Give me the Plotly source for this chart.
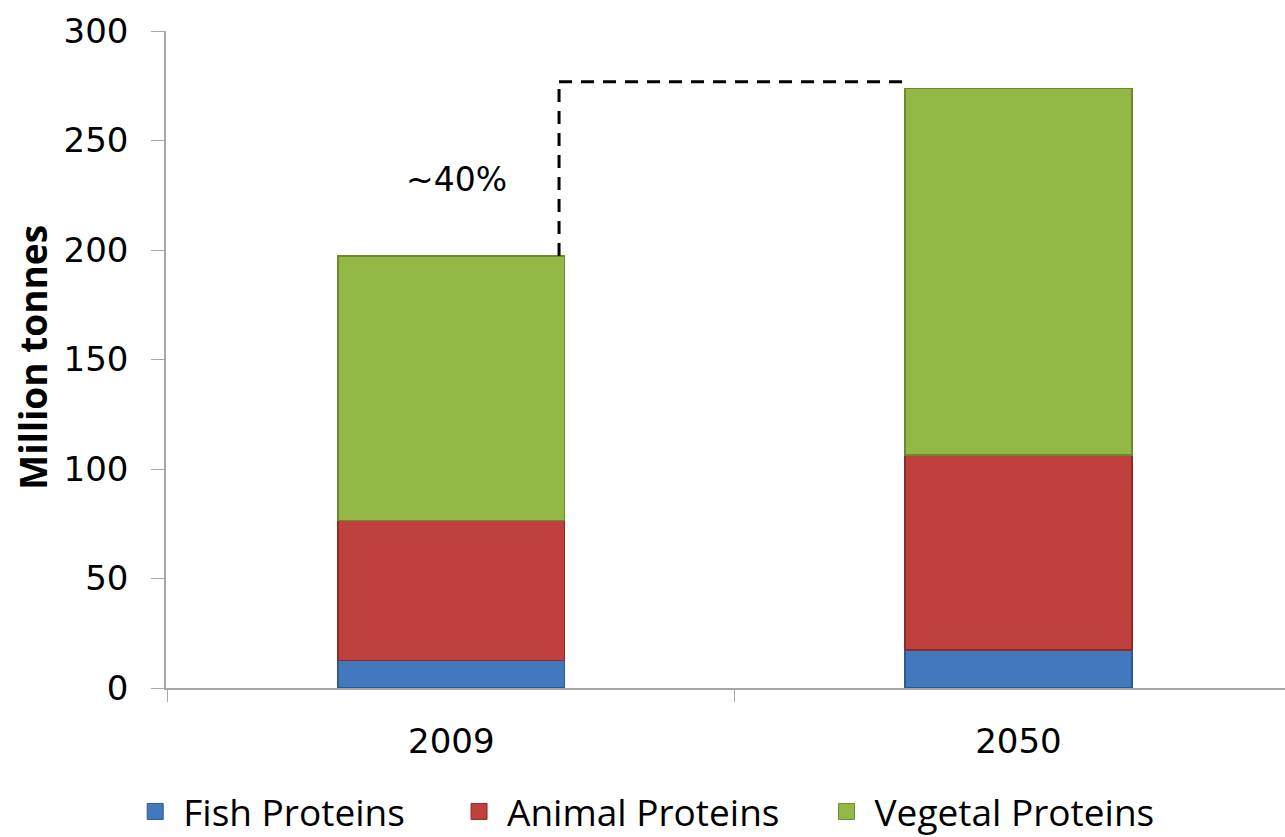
import plotly.graph_objects as go

# Protein supply by source (million tonnes)
years = ["2009", "2050"]
fish = [12.5, 17.4]
animal = [63.9, 89.0]
vegetal = [120.9, 167.4]
series_names = ["Fish Proteins", "Animal Proteins", "Vegetal Proteins"]
growth_label = "~40%"
y_ticks = [0, 50, 100, 150, 200, 250, 300]

fills = ["#4178be", "#c0403d", "#93b846"]
edges = ["#2c5a94", "#8a2c2a", "#6b8a30"]
# left edge (container fraction) of each legend entry
legend_x = [0.099, 0.351, 0.637]

totals = [f + a + v for f, a, v in zip(fish, animal, vegetal)]

fig = go.Figure()
for i, (name, vals, fc, ec) in enumerate(zip(series_names, [fish, animal, vegetal], fills, edges)):
    legend_id = "legend" if i == 0 else f"legend{i + 1}"
    fig.add_trace(go.Bar(
        x=years, y=vals, name=name, width=0.4,
        marker=dict(color=fc, line=dict(color=ec, width=1.5)),
        showlegend=False,
    ))
    # square swatch for the legend
    fig.add_trace(go.Scatter(
        x=[None], y=[None], mode="markers", name=name,
        marker=dict(symbol="square", size=20, color=fc, line=dict(color=ec, width=1)),
        showlegend=True, legend=legend_id,
    ))

# dashed bracket from the 2009 total up and across to the 2050 bar
peak = totals[1] + 3
x_left = 0.19
x_right = 0.805
dash_style = dict(color="black", width=3, dash="13px,9px")
fig.add_shape(type="line", xref="x", yref="y", x0=x_left, x1=x_left,
              y0=totals[0], y1=peak, line=dash_style)
fig.add_shape(type="line", xref="x", yref="y", x0=x_left, x1=x_right,
              y0=peak, y1=peak, line=dash_style)

fig.add_annotation(x=0.01, y=232, xref="x", yref="y", text=growth_label,
                   showarrow=False, font=dict(family="DejaVu Sans", size=33, color="black"))

fig.add_annotation(x=-0.119, y=0.504, xref="paper", yref="paper",
                   xanchor="center", yanchor="middle",
                   text="<b>Million tonnes</b>", textangle=-90, showarrow=False,
                   font=dict(family="Open Sans, sans-serif", size=37, color="black"))

axis_grey = "#a6a6a6"
legend_style = dict(
    orientation="h", xref="container", xanchor="left",
    yref="container", y=0.030, yanchor="middle",
    font=dict(family="Open Sans, sans-serif", size=37, color="black"),
    itemwidth=46, bgcolor="rgba(0,0,0,0)",
)

fig.update_layout(
    width=1285, height=837,
    margin=dict(l=166, r=0, t=31, b=149, autoexpand=False),
    paper_bgcolor="white", plot_bgcolor="white",
    barmode="stack",
    xaxis=dict(
        type="category", range=[-0.503, 1.47],
        showline=True, linecolor=axis_grey, linewidth=1.5,
        ticks="outside", tickson="boundaries", ticklen=12, tickcolor=axis_grey,
        ticklabelstandoff=22,
        tickfont=dict(family="DejaVu Sans", size=34, color="black"),
        showgrid=False, zeroline=False,
    ),
    yaxis=dict(
        range=[0, 300], tickvals=y_ticks,
        showline=True, linecolor=axis_grey, linewidth=1.5,
        ticks="outside", ticklen=13, tickcolor=axis_grey,
        ticklabelstandoff=16,
        tickfont=dict(family="DejaVu Sans", size=34, color="black"),
        showgrid=False, zeroline=False,
    ),
    legend=dict(legend_style, x=legend_x[0]),
    legend2=dict(legend_style, x=legend_x[1]),
    legend3=dict(legend_style, x=legend_x[2]),
)

fig.write_html("out.html")
